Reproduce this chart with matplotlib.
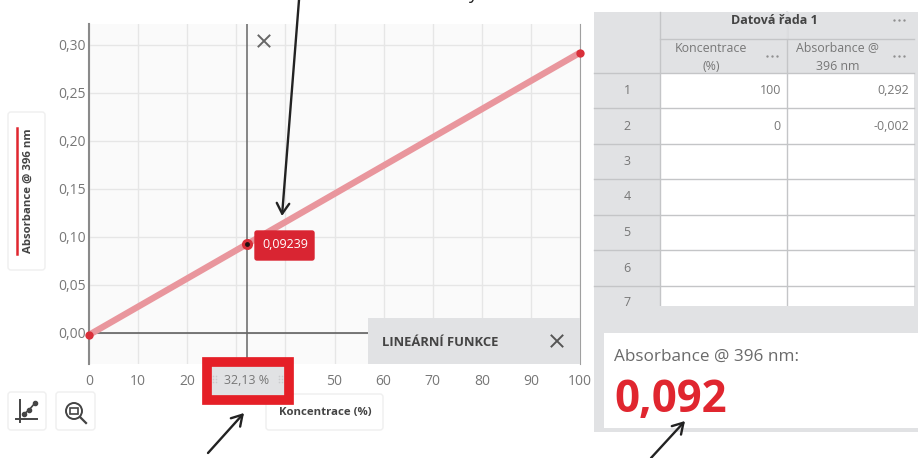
"""Absorbance vs. concentration screenshot: chart, data table and readout."""

import matplotlib
matplotlib.use("Agg")
import matplotlib.pyplot as plt
from matplotlib.patches import FancyBboxPatch, Rectangle

plt.rcParams["font.family"] = ["Open Sans", "DejaVu Sans"]

CONC = [0, 100]
ABSORBANCE = [-0.002, 0.292]
CURSOR_X = 32.13
CURSOR_Y = 0.09239
X_TICKS = [0, 10, 20, 30, 40, 50, 60, 70, 80, 90, 100]
X_TICK_LABELS = ["0", "10", "20", "", "", "50", "60", "70", "80", "90", "100"]
Y_TICKS = [0.00, 0.05, 0.10, 0.15, 0.20, 0.25, 0.30]
Y_TICK_LABELS = ["0,00", "0,05", "0,10", "0,15", "0,20", "0,25", "0,30"]

TABLE_HEAD = "Datová řada 1"
COL_HEADS = ["Koncentrace\n(%)", "Absorbance @\n396 nm"]
ROW_NUMS = ["1", "2", "3", "4", "5", "6", "7"]
COL_CONC = ["100", "0"]
COL_ABS = ["0,292", "-0,002"]

RED = "#e0262f"
GRAY_PANEL = "#e1e2e4"
TEXT_GRAY = "#777777"
DARK = "#444444"

W, H = 918, 458


def box(ov, x0, y0, x1, y1, fc="white", ec="none", lw=1.0, z=5):
    ov.add_patch(Rectangle((x0, y0), x1 - x0, y1 - y0, fc=fc, ec=ec, lw=lw, zorder=z))


def round_box(ov, x0, y0, x1, y1, fc="white", ec="#efefef", r=3, z=5):
    ov.add_patch(FancyBboxPatch(
        (x0 + r, y0 + r), x1 - x0 - 2 * r, y1 - y0 - 2 * r,
        boxstyle=f"round,pad={r},rounding_size={r}", fc=fc, ec=ec, lw=1.0, zorder=z,
    ))


def arrow(ov, tail, head):
    ov.annotate("", xy=head, xytext=tail, zorder=20, annotation_clip=False, arrowprops=dict(
        arrowstyle="->,head_length=0.75,head_width=0.45", color="#222222", lw=1.7,
        shrinkA=0, shrinkB=0,
    ))


def cross(ov, cx, cy, r=5.5, color="#666666"):
    ov.plot([cx - r, cx + r], [cy - r, cy + r], color=color, lw=1.4, zorder=6)
    ov.plot([cx - r, cx + r], [cy + r, cy - r], color=color, lw=1.4, zorder=6)


def dots(ov, cx, cy):
    ov.plot([cx - 5, cx, cx + 5], [cy, cy, cy], "o", color="#8f8f8f", ms=1.7, mew=0, zorder=6)


def draw_chart(fig):
    ax = fig.add_axes([89 / W, 1 - 364 / H, (580 - 89) / W, (364 - 24) / H])
    ax.set_facecolor("#fafafa")
    ax.set_xlim(0, 100)
    ax.set_ylim(-31 / 960, 0.30 + 21 / 960)
    ax.set_xticks(X_TICKS)
    ax.set_xticklabels(X_TICK_LABELS, fontsize=10, color=TEXT_GRAY)
    ax.set_yticks(Y_TICKS)
    ax.set_yticklabels(Y_TICK_LABELS, fontsize=10, color=TEXT_GRAY)
    ax.tick_params(length=0)
    ax.tick_params(axis="y", pad=2)
    ax.tick_params(axis="x", pad=7)
    ax.grid(color="#e6e6e6", lw=1.0)
    ax.set_axisbelow(True)
    for side in ["top", "bottom"]:
        ax.spines[side].set_visible(False)
    ax.spines["left"].set_color("#8a8a8a")
    ax.spines["left"].set_linewidth(1.5)
    ax.spines["right"].set_color("#a0a0a0")
    ax.spines["right"].set_linewidth(0.8)

    ax.axhline(0, color="#555555", lw=1.1, zorder=2)
    ax.axvline(CURSOR_X, color="#666666", lw=1.1, zorder=2)
    ax.plot(CONC, ABSORBANCE, color="#e9969d", lw=4.6, solid_capstyle="butt", zorder=3)
    ax.plot(CONC, ABSORBANCE, "o", color="#d9303a", ms=6, mew=0, zorder=4, clip_on=False)
    ax.plot([CURSOR_X], [CURSOR_Y], "o", color="#d9303a", ms=8, mew=0, zorder=4)
    ax.plot([CURSOR_X], [CURSOR_Y], "o", color="#201010", ms=3.5, mew=0, zorder=5)
    return ax


def draw_overlay(ov):
    # legend card, left
    round_box(ov, 8, 112, 45, 270)
    ov.plot([17, 17], [128, 254], color=RED, lw=1.8, zorder=6)
    ov.text(28, 191, "Absorbance @ 396 nm", rotation=90, ha="center", va="center",
            fontsize=8.2, fontweight="bold", color=DARK, zorder=6)

    cross(ov, 264, 41)

    # tooltip at the cursor
    round_box(ov, 255, 231, 314, 260, fc="#d92532", ec="#d92532", r=2, z=7)
    ov.text(285, 245, "0,09239", ha="center", va="center", fontsize=9, color="white", zorder=8)

    # function panel
    box(ov, 368, 318, 580, 364, fc=GRAY_PANEL)
    ov.text(382, 343, "LINEÁRNÍ FUNKCE", ha="left", va="center", fontsize=9.4,
            fontweight="bold", color=DARK, zorder=6)
    cross(ov, 557, 341, color="#555555")

    # x cursor label with red outline
    box(ov, 206.5, 361.5, 289, 399.5, fc=GRAY_PANEL, ec="#e51f27", lw=7, z=9)
    ov.text(247, 381, "32,13 %", ha="center", va="center", fontsize=9, color=TEXT_GRAY, zorder=10)
    for gx in [213, 279]:
        ov.plot([gx, gx + 3, gx, gx + 3, gx, gx + 3], [376, 376, 379, 379, 382, 382], "o",
                color="#c9cacc", ms=1.2, mew=0, zorder=10)

    # buttons
    round_box(ov, 8, 392, 46, 430)
    round_box(ov, 56, 392, 95, 430)
    round_box(ov, 266, 394, 383, 430)
    ov.text(325, 413, "Koncentrace (%)", ha="center", va="center", fontsize=8.2,
            fontweight="bold", color=DARK, zorder=6)

    # graph button icon
    ov.plot([20, 20], [400, 422], color=DARK, lw=1.4, zorder=6)
    ov.plot([16, 37], [419, 419], color=DARK, lw=1.4, zorder=6)
    ov.plot([24, 29, 35], [414, 410, 403], "-o", color=DARK, lw=1.2, ms=3, zorder=6)

    # zoom button icon
    ov.add_patch(plt.Circle((74, 411), 8, fc="none", ec=DARK, lw=1.4, zorder=6))
    box(ov, 70, 408, 78, 414, fc="none", ec=DARK, lw=1.2, z=6)
    ov.plot([80, 86], [417, 423], color=DARK, lw=1.6, zorder=6)


def draw_table(ov):
    box(ov, 594, 12, 918, 432, fc=GRAY_PANEL, z=2)

    col_x = [660, 787, 914]
    row_y = [73, 108, 144, 179, 215, 250, 286, 306]
    line = "#c4c5c7"

    box(ov, col_x[0], row_y[0], col_x[2], row_y[-1], fc="white", z=3)
    for y in row_y[:-1]:
        ov.plot([594, col_x[2]], [y, y], color=line, lw=1.0, zorder=4)
    for x in col_x[:2]:
        ov.plot([x, x], [12, row_y[-1]], color=line, lw=1.0, zorder=4)
    ov.plot([col_x[1], col_x[1]], [12, 39], color=GRAY_PANEL, lw=1.2, zorder=4)
    ov.plot([col_x[0], col_x[2]], [39, 39], color=line, lw=1.0, zorder=4)

    ov.text(774, 21, TABLE_HEAD, ha="center", va="center", fontsize=9,
            fontweight="bold", color=DARK, zorder=6)
    for x, label in zip([711, 838], COL_HEADS):
        ov.text(x, 57, label, ha="center", va="center", fontsize=8.9, color=TEXT_GRAY,
                linespacing=1.5, zorder=6)
    for x, y in [(899, 20), (772, 56), (899, 56)]:
        dots(ov, x, y)

    for i, num in enumerate(ROW_NUMS):
        mid = (row_y[i] + row_y[i + 1]) / 2 if i < 6 else 303
        ov.text(627, mid, num, ha="center", va="center", fontsize=9, color=TEXT_GRAY,
                zorder=3, clip_on=True)
    for i, (c, a) in enumerate(zip(COL_CONC, COL_ABS)):
        mid = (row_y[i] + row_y[i + 1]) / 2
        ov.text(781, mid, c, ha="right", va="center", fontsize=9, color=TEXT_GRAY, zorder=6)
        ov.text(909, mid, a, ha="right", va="center", fontsize=9, color=TEXT_GRAY, zorder=6)

    # cover for the cut off row 7
    box(ov, 594, 306, 918, 333, fc=GRAY_PANEL, z=5)
    box(ov, 604, 333, 918, 428, fc="white", z=5)
    ov.text(614, 357, "Absorbance @ 396 nm:", ha="left", va="center", fontsize=12.3,
            color="#6a6a6a", zorder=6)
    ov.text(614, 401, "0,092", ha="left", va="center", fontsize=31.5, fontweight="bold",
            color=RED, zorder=6)


def main():
    fig = plt.figure(figsize=(W / 100, H / 100), dpi=100)
    draw_chart(fig)

    # pixel space overlay for the interface parts around the chart
    ov = fig.add_axes([0, 0, 1, 1], facecolor="none")
    ov.set_xlim(0, W)
    ov.set_ylim(H, 0)
    ov.axis("off")
    draw_overlay(ov)
    draw_table(ov)

    arrow(ov, (299, 0), (282, 216))
    arrow(ov, (208, 453), (244, 413))
    arrow(ov, (651, 458), (685, 421))
    # descender of the caption cut off at the top edge
    ov.text(473, -1, "y", ha="center", va="baseline", fontsize=13, color="#222222", clip_on=False)

    fig.savefig("out.png", dpi=100)
    plt.close(fig)


if __name__ == "__main__":
    main()
